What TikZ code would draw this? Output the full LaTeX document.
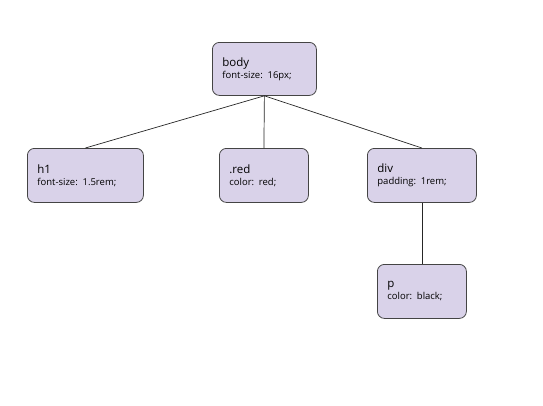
\documentclass[tikz,border=0pt]{standalone}
\usepackage{fontspec}
\setmainfont{Open Sans}
\definecolor{boxfill}{HTML}{D9D2E9}
\definecolor{boxline}{HTML}{444444}
\begin{document}
\begin{tikzpicture}[x=1pt,y=-1pt,
  cssbox/.style={draw=boxline, fill=boxfill, line width=0.8pt, rounded corners=7pt,
    inner xsep=10pt, inner ysep=0pt, align=left, anchor=north west,
    font=\fontsize{9.5pt}{12pt}\selectfont},
  edge/.style={draw=black!85, line width=0.7pt}]
\useasboundingbox (0,0) rectangle (543,405);
\newcommand{\cssnode}[6]{%
  \node[cssbox, text width=#4-20pt, minimum height=#5] (#1) at (#2,#3) {#6};}
\cssnode{body}{212}{42}{104pt}{53pt}{{\fontsize{11.5pt}{13pt}\selectfont body}\\font-size: 16px;}
\cssnode{h1}{27}{148}{116pt}{54pt}{{\fontsize{11.5pt}{13pt}\selectfont h1}\\font-size: 1.5rem;}
\cssnode{red}{219}{148}{89pt}{54pt}{{\fontsize{11.5pt}{13pt}\selectfont .red}\\color: red;}
\cssnode{div}{367}{148}{109pt}{54pt}{{\fontsize{11.5pt}{13pt}\selectfont div}\\padding: 1rem;}
\cssnode{p}{377}{264}{89pt}{54pt}{{\fontsize{11.5pt}{13pt}\selectfont p}\\color: black;}
\draw[edge] (body.south) -- (h1.north);
\draw[edge] (body.south) -- (red.north);
\draw[edge] (body.south) -- (div.north);
\draw[edge] (div.south) -- (p.north);
\end{tikzpicture}
\end{document}
